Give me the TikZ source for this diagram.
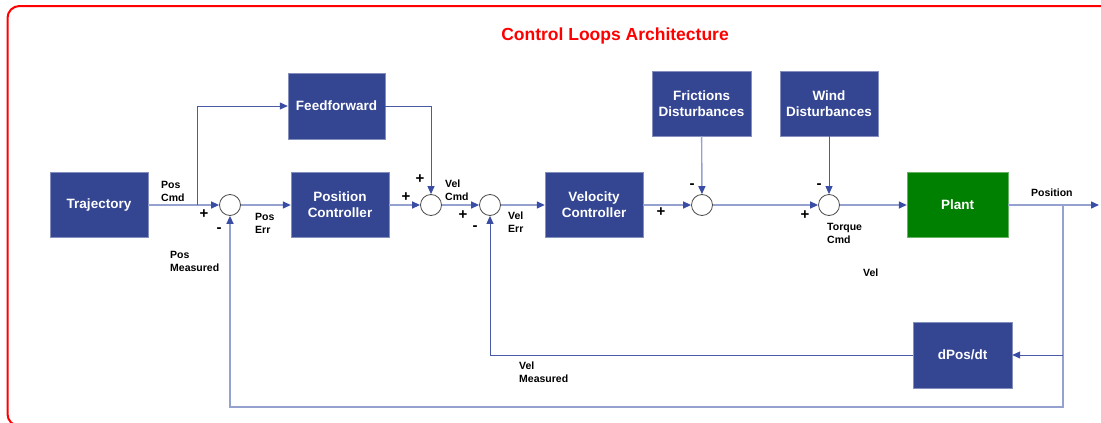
\documentclass[tikz,border=0pt]{standalone}
\usepackage{fontspec}
\setmainfont{Liberation Sans}
\usetikzlibrary{arrows.meta,calc}
\definecolor{boxblue}{HTML}{344592}
\definecolor{plantgreen}{HTML}{008000}
\definecolor{wirelight}{HTML}{95A1CF}
\definecolor{wiredark}{HTML}{4A5AA6}
\definecolor{tipblue}{HTML}{3A4DA4}
\tikzset{block/.style={draw=boxblue!60!white,fill=boxblue,text=white,font=\bfseries\fontsize{13.5}{16}\selectfont,align=center,minimum width=98pt,minimum height=65pt,inner sep=0pt}}
\tikzset{sum/.style={circle,draw=black!70,fill=white,minimum size=21pt,inner sep=0pt,line width=0.8pt}}
\tikzset{wire/.style={draw=wirelight,line width=1.4pt}}
\tikzset{wired/.style={draw=wiredark,line width=1pt}}
\tikzset{tip/.style={-{Triangle[length=8pt,width=7pt,color=tipblue]}}}
\tikzset{lbl/.style={font=\bfseries\fontsize{10.5}{13}\selectfont,align=left,anchor=west,inner sep=0pt}}
\tikzset{sgn/.style={font=\bfseries\fontsize{15}{15}\selectfont,inner sep=0pt}}

\begin{document}
\begin{tikzpicture}[x=1pt,y=-1pt]
	\useasboundingbox (0,0) rectangle (1101,423);
	\clip (0,0) rectangle (1101,423);
	\draw[red,line width=2pt,rounded corners=12pt] (7.5,6) rectangle (1140,426);
	\node[text=red,font=\bfseries\fontsize{17.5}{20}\selectfont] (title) at (615,36) {Control Loops Architecture};
	%% blocks
	\node[block] (traj) at (99,205) {Trajectory};
	\node[block,minimum width=97pt,minimum height=66pt] (ff) at (336.5,106) {Feedforward};
	\node[block] (pc) at (340,205) {Position\\Controller};
	\node[block] (vc) at (594,205) {Velocity\\Controller};
	\node[block,minimum width=99pt] (fric) at (701.5,103.5) {Frictions\\Disturbances};
	\node[block] (wind) at (829,103.5) {Wind\\Disturbances};
	\node[block,fill=plantgreen,draw=plantgreen!60!white,minimum width=101pt] (plant) at (957.5,205) {Plant};
	\node[block,minimum width=99pt,minimum height=66pt] (dpos) at (962.5,355) {dPos/dt};
	%% summing junctions
	\node[sum] (s1) at (230,205) {};
	\node[sum] (s2) at (431,205) {};
	\node[sum] (s3) at (490,205) {};
	\node[sum] (s4) at (702,205) {};
	\node[sum] (s5) at (829,205) {};
	%% taps
	\coordinate (ffsplit) at (197,205);
	\coordinate (out) at (1099,205);
	\coordinate (tap) at (1063,205);
	\coordinate (tapd) at (1063,355);
	\coordinate (corner) at (1063,407);
	%% signals
	\draw[wire,tip] (traj) -- (s1);
	\draw[wired,tip] (ffsplit) |- (ff);
	\draw[wire,tip] (s1) -- (pc);
	\draw[wire,tip] (pc) -- (s2);
	\draw[wired,tip] (ff) -| (s2);
	\draw[wire,tip] (s2) -- (s3);
	\draw[wire,tip] (s3) -- (vc);
	\draw[wire,tip] (vc) -- (s4);
	\draw[wire,tip] (fric) -- (s4);
	\draw[wire,tip] (s4) -- (s5);
	\draw[wired,tip] (wind) -- (s5);
	\draw[wire,tip] (s5) -- (plant);
	\draw[wire,tip] (plant) -- (out);
	\draw[wire,tip] (tap) -- (corner) -| (s1);
	\draw[wired,tip] (tapd) -- (dpos);
	\draw[wired,tip] (dpos) -| (s3);
	%% labels
	\node[lbl] (poscmd) at (161,191) {Pos\\Cmd};
	\node[lbl] (poserr) at (255,223) {Pos\\Err};
	\node[lbl] (posmeas) at (170,261) {Pos\\Measured};
	\node[lbl] (velcmd) at (445,190) {Vel\\Cmd};
	\node[lbl] (velerr) at (508,222) {Vel\\Err};
	\node[lbl] (torque) at (827,233) {Torque\\Cmd};
	\node[lbl] (vel) at (863,273) {Vel};
	\node[lbl] (position) at (1031,193) {Position};
	\node[lbl] (velmeas) at (519,372) {Vel\\Measured};
	%% signs
	\node[sgn] (p1) at (204,214) {+};
	\node[sgn] (m1) at (219,230) {-};
	\node[sgn] (p2) at (406,197) {+};
	\node[sgn] (p3) at (420,179) {+};
	\node[sgn] (p4) at (463,215) {+};
	\node[sgn] (m4) at (475,228) {-};
	\node[sgn] (p5) at (661,212) {+};
	\node[sgn] (m5) at (692,186) {-};
	\node[sgn] (m6) at (819,186) {-};
	\node[sgn] (p6) at (805,215) {+};
\end{tikzpicture}
\end{document}
